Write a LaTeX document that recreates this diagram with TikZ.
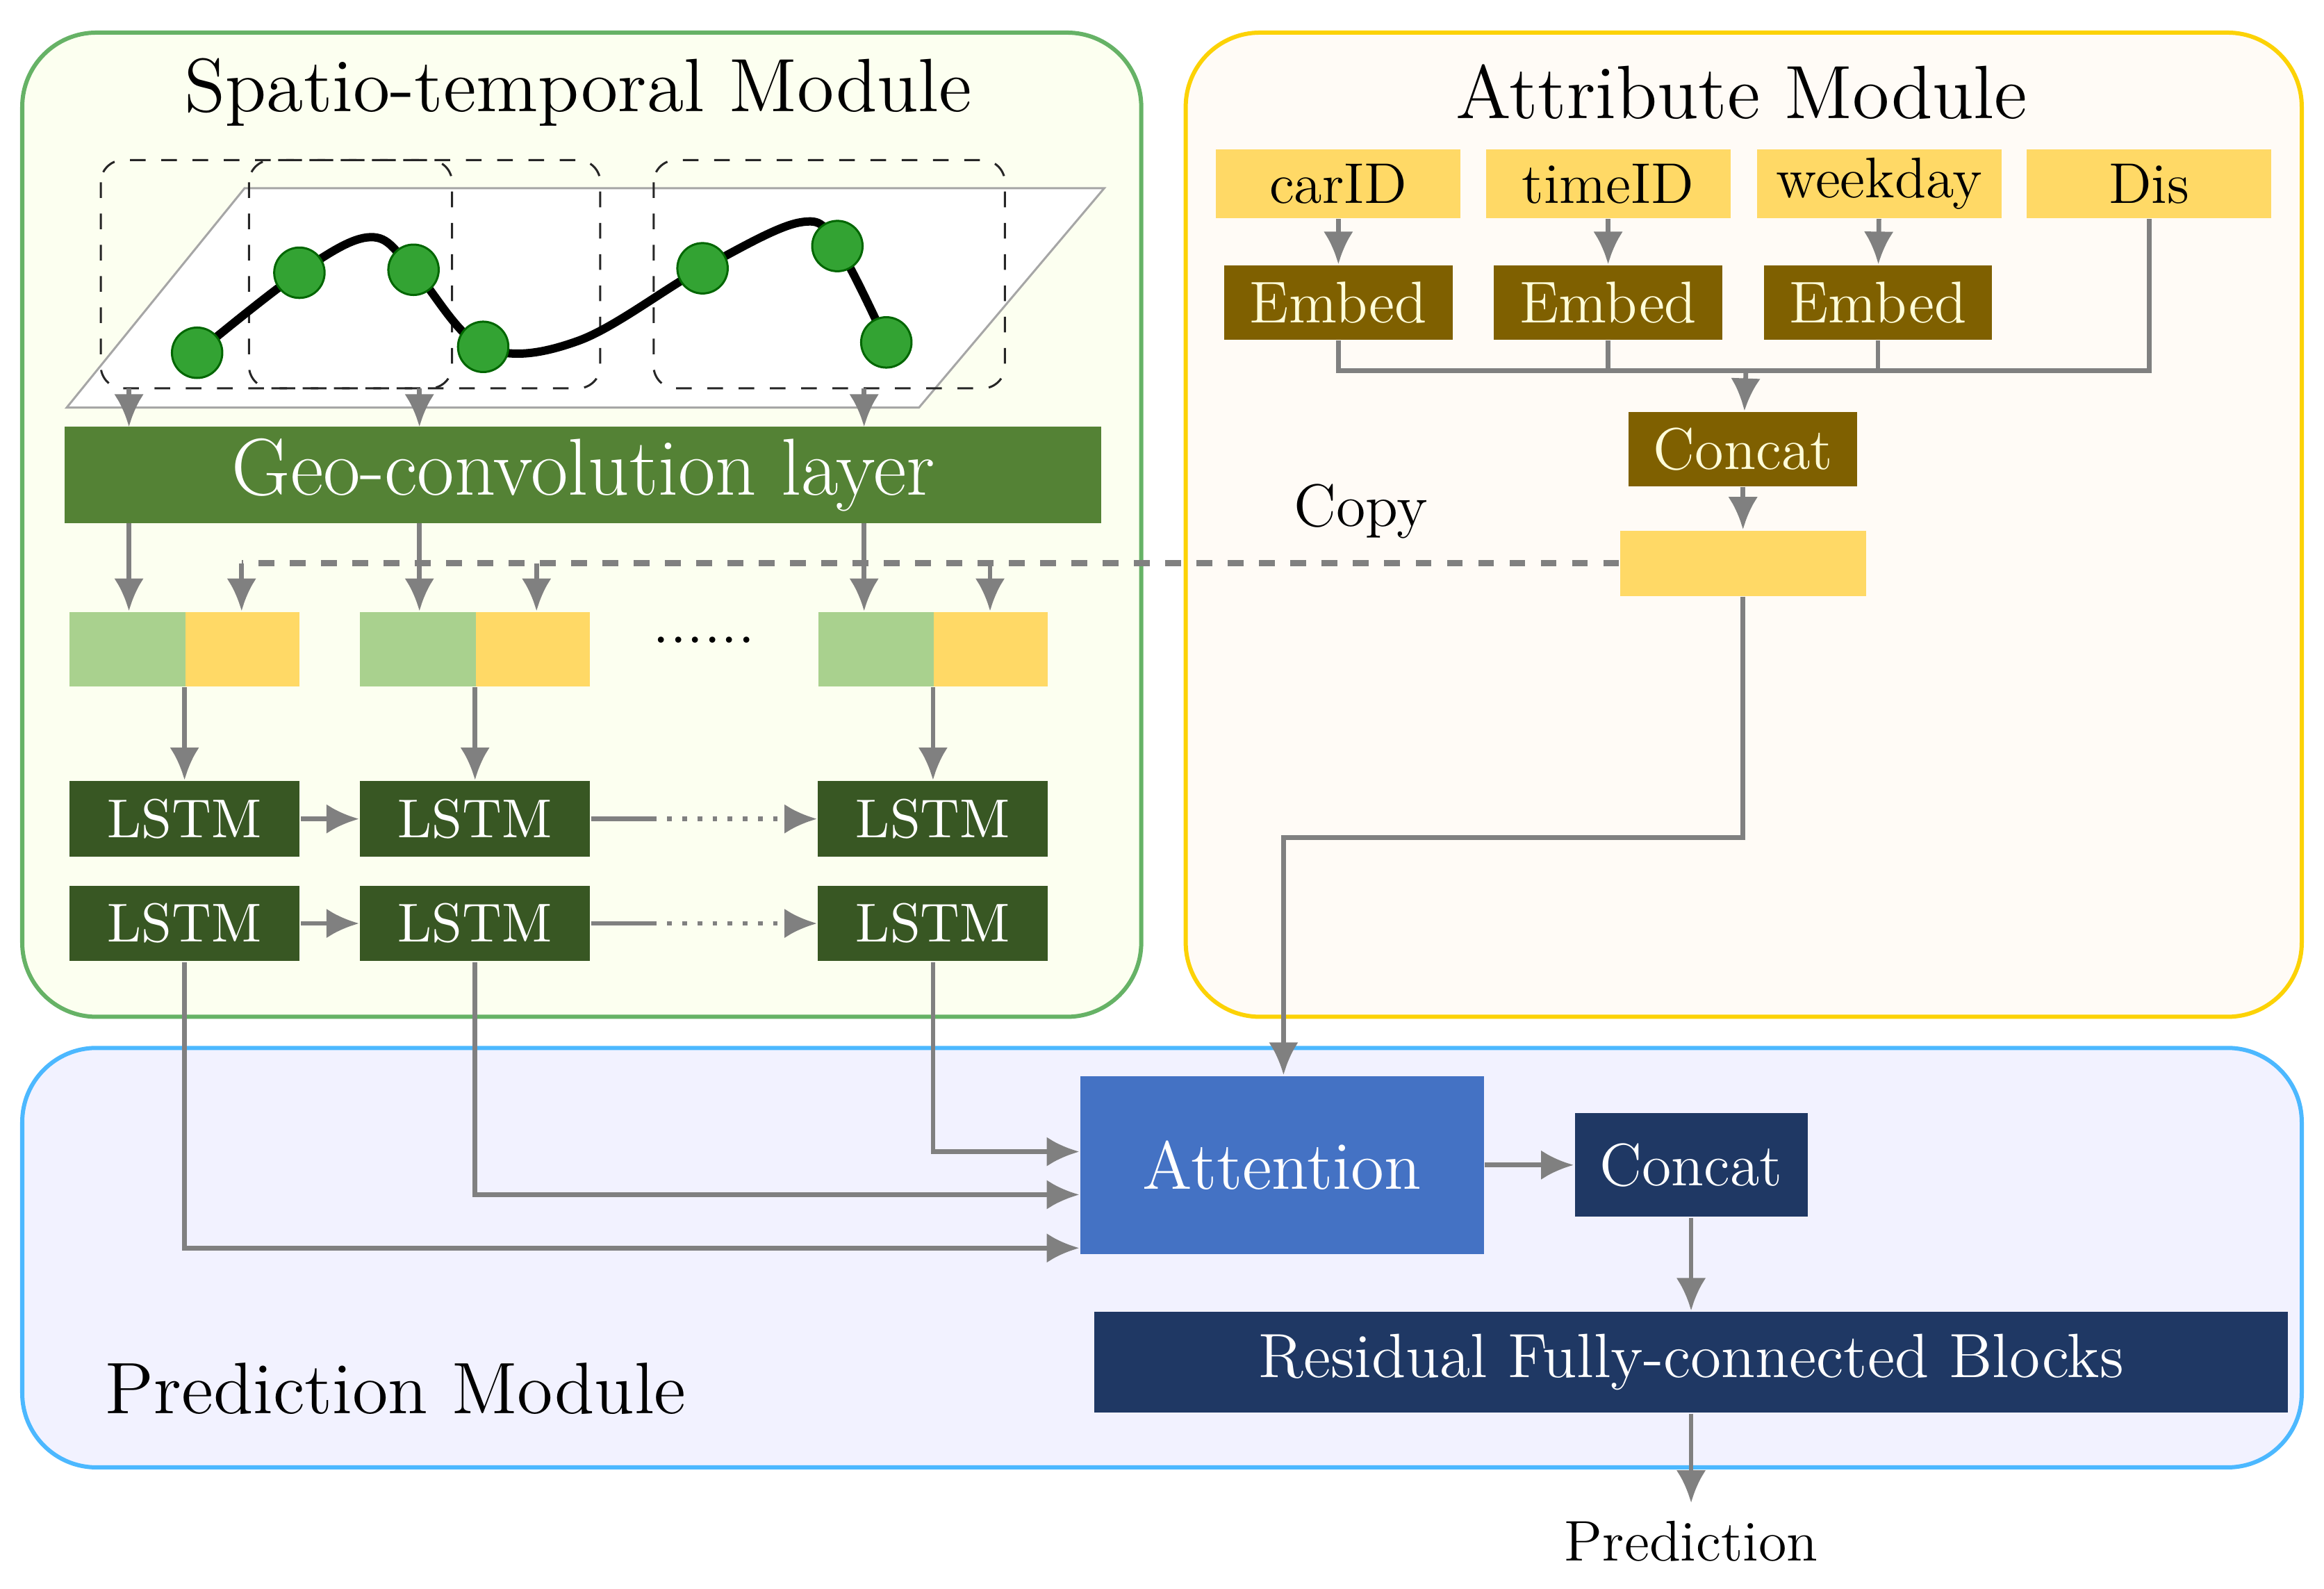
\documentclass[tikz,border=0pt]{standalone}
\usepackage{tikz}
\usetikzlibrary{arrows.meta}
\definecolor{geogreen}{RGB}{84,130,53}
\definecolor{lstmgreen}{RGB}{56,87,35}
\definecolor{cellgreen}{RGB}{169,209,142}
\definecolor{cellyellow}{RGB}{255,217,102}
\definecolor{embbrown}{RGB}{127,96,0}
\definecolor{attblue}{RGB}{68,114,196}
\definecolor{navy}{RGB}{31,56,100}
\definecolor{conngray}{RGB}{128,128,128}
\tikzset{
	box/.style={inner sep=0pt,font=\fontsize{10.5}{12}\selectfont},
	conn/.style={draw=conngray,line width=0.9pt},
	arr/.style={conn,-{Latex[length=2.2mm,width=2mm]}},
	panel/.style={rounded corners=0.5cm,line width=0.8pt},
}
\begin{document}
\begin{tikzpicture}[x=0.01cm,y=-0.01cm]
	\useasboundingbox (0,0) rectangle (1568,1072);
	
	%panels
	\draw[panel,draw=green!50!black!60,fill=green!20!yellow!6] (15,22) rectangle (770,686);
	\draw[panel,draw=yellow!70!orange,fill=yellow!4!orange!3] (800,22) rectangle (1553,686);
	\draw[panel,draw=blue!40!cyan!70,fill=blue!5] (15,707) rectangle (1553,990);
	\node[font=\fontsize{14.5}{16}\selectfont] (sttitle) at (390,62) {Spatio-temporal Module};
	\node[font=\fontsize{14.5}{16}\selectfont] (attitle) at (1175,62) {Attribute Module};
	\node[font=\fontsize{14}{16}\selectfont] (prtitle) at (267,937) {Prediction Module};
	
	%trajectory
	\draw[gray!70,fill=white] (45,275)--(620,275)--(745,127)--(165,127)--cycle;
	\draw[dashed,gray!30!black,rounded corners=0.15cm] (68,108) rectangle (305,262);
	\draw[dashed,gray!30!black,rounded corners=0.15cm] (168,108) rectangle (405,262);
	\draw[dashed,gray!30!black,rounded corners=0.15cm] (441,108) rectangle (678,262);
	\draw[line width=1.6pt] plot[smooth,tension=0.6] coordinates {(133,238) (202,184) (250,160) (279,182) (326,234) (390,230) (474,181) (540,150) (565,166) (598,231)};
	\foreach \p [count=\i] in {(133,238),(202,184),(279,182),(326,234),(474,181),(565,166),(598,231)}
		\draw[fill=green!55!black!80!white,draw=green!40!black] \p circle (17);
	\foreach \x in {87,283,583}
		\draw[arr] (\x,262) -- (\x,288);
	
	%geo layer and cells
	\node[box,fill=geogreen,text=white,minimum width=6.99cm,minimum height=0.65cm,font=\fontsize{15.5}{17}\selectfont] (geo) at (393.5,320.5) {Geo-convolution layer};
	\foreach \x [count=\i] in {47,243,552} {
		\node[box,fill=cellgreen,minimum width=0.78cm,minimum height=0.5cm] (g\i) at (\x+39,438) {};
		\node[box,fill=cellyellow,minimum width=0.77cm,minimum height=0.5cm] (y\i) at (\x+116.5,438) {};
		\node[box,fill=lstmgreen,text=white,minimum width=1.55cm,minimum height=0.51cm] (la\i) at (\x+77.5,552.5) {LSTM};
		\node[box,fill=lstmgreen,text=white,minimum width=1.55cm,minimum height=0.51cm] (lb\i) at (\x+77.5,623) {LSTM};
		\draw[arr] (la\i.north |- y\i.south) -- (la\i.north);
	}
	\node[font=\fontsize{12}{12}\selectfont] (dots) at (475,432) {......};
	\draw[arr] (87,353) -- (g1.north -| 87,0);
	\draw[arr] (283,353) -- (g2.north -| 283,0);
	\draw[arr] (583,353) -- (g3.north -| 583,0);
	\draw[arr] (la1) -- (la2);
	\draw[arr] (lb1) -- (lb2);
	\draw[conn] (la2.east) -- (440,552.5);
	\draw[arr,dotted] (440,552.5) -- (la3.west);
	\draw[conn] (lb2.east) -- (440,623);
	\draw[arr,dotted] (440,623) -- (lb3.west);
	
	%attribute module
	\foreach \x/\t [count=\i] in {903/carID,1085/timeID,1268/weekday,1450/Dis}
		\node[box,fill=cellyellow,minimum width=1.65cm,minimum height=0.46cm,font=\fontsize{11}{12}\selectfont] (a\i) at (\x,124) {\t};
	\foreach \x [count=\i] in {903,1085,1267} {
		\node[box,fill=embbrown,text=yellow!15,minimum width=1.54cm,minimum height=0.5cm,font=\fontsize{11.3}{12}\selectfont] (e\i) at (\x,204) {Embed};
		\draw[arr] (a\i) -- (e\i);
	}
	\coordinate (join) at (1178,250);
	\draw[conn] (e1.south) |- (a4.south |- join) -- (a4.south);
	\draw[conn] (e2.south) -- (e2.south |- join);
	\draw[conn] (e3.south) -- (e3.south |- join);
	\node[box,fill=embbrown,text=yellow!15,minimum width=1.54cm,minimum height=0.5cm,font=\fontsize{11.3}{12}\selectfont] (cat1) at (1176,303) {Concat};
	\draw[arr] (join) -- (cat1);
	\node[box,fill=cellyellow,minimum width=1.66cm,minimum height=0.44cm] (attr) at (1176,380) {};
	\draw[arr] (cat1) -- (attr);
	\node[font=\fontsize{11.5}{12}\selectfont] (copy) at (918,345) {Copy};
	
	%copy line
	\draw[conn,dashed,line width=1.2pt] (attr.west) -- (163,380);
	\foreach \x/\c in {163/y1,362/y2,668/y3}
		\draw[arr] (\x,380) -- (\c.north -| \x,0);
	
	%prediction module
	\node[box,fill=attblue,text=white,minimum width=2.72cm,minimum height=1.2cm,font=\fontsize{13}{14}\selectfont] (att) at (865,786) {Attention};
	\node[box,fill=navy,text=white,minimum width=1.57cm,minimum height=0.7cm,font=\fontsize{11.5}{12}\selectfont] (cat2) at (1141,786) {Concat};
	\node[box,fill=navy,text=white,minimum width=8.05cm,minimum height=0.68cm,font=\fontsize{12}{13}\selectfont] (res) at (1141,919) {Residual Fully-connected Blocks};
	\node[font=\fontsize{11}{12}\selectfont] (pred) at (1141,1040) {Prediction};
	\draw[arr] (attr.south) |- (866,565) -- (att.north -| 866,0);
	\draw[arr] (att) -- (cat2);
	\draw[arr] (cat2.south) -- (res.north -| cat2.south);
	\draw[arr] (res.south -| cat2.south) -- (pred.north);
	\draw[arr] (lb3.south) |- (att.west |- 0,777);
	\draw[arr] (lb2.south) |- (att.west |- 0,806);
	\draw[arr] (lb1.south) |- (att.west |- 0,842);
\end{tikzpicture}
\end{document}
